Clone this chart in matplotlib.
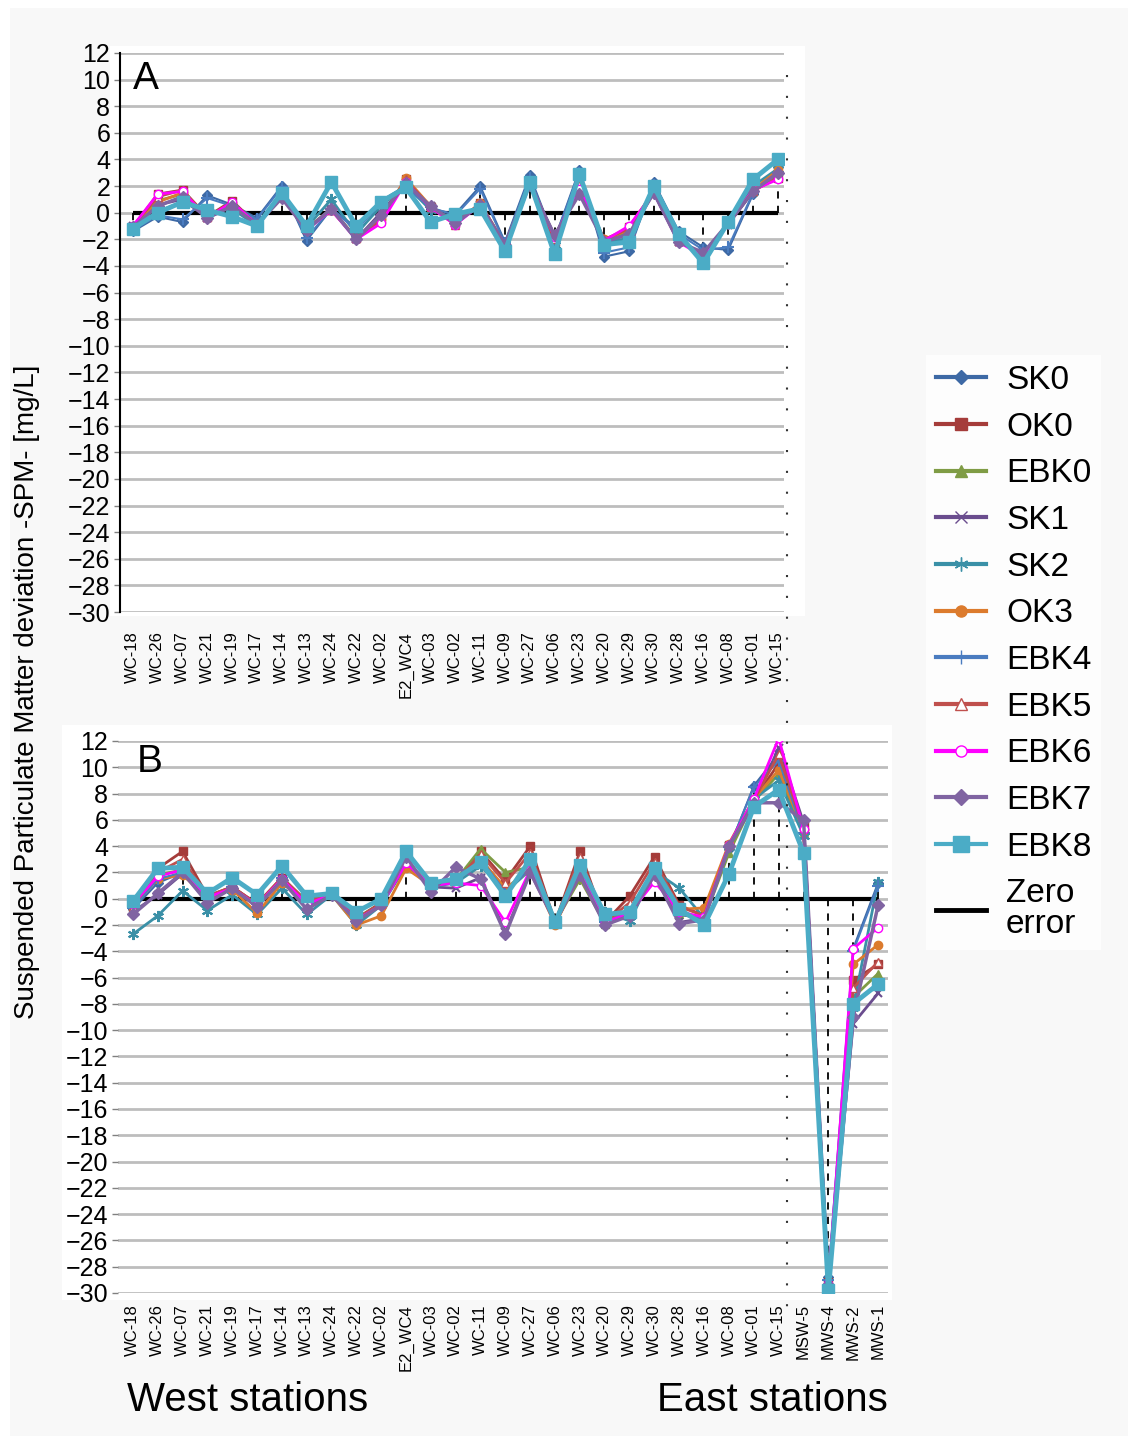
import numpy as np
import matplotlib.pyplot as plt
from matplotlib.lines import Line2D
from matplotlib.patches import Rectangle

plt.rcParams['font.family'] = ['Liberation Sans', 'DejaVu Sans']

# station labels
west_a = ['WC-18', 'WC-26', 'WC-07', 'WC-21', 'WC-19', 'WC-17', 'WC-14', 'WC-13', 'WC-24',
          'WC-22', 'WC-02', 'E2_WC4', 'WC-03', 'WC-02', 'WC-11', 'WC-09', 'WC-27', 'WC-06',
          'WC-23', 'WC-20', 'WC-29', 'WC-30', 'WC-28', 'WC-16', 'WC-08', 'WC-01', 'WC-15']
stations_b = west_a + ['MSW-5', 'MWS-4', 'MWS-2', 'MWS-1']

series = ['SK0', 'OK0', 'EBK0', 'SK1', 'SK2', 'OK3', 'EBK4', 'EBK5', 'EBK6', 'EBK7', 'EBK8']

# panel A values (mg/L)
SK0_a = [-1.4, -0.3, -0.7, 1.3, 0.6, -0.4, 2.0, -2.1, 0.3, -1.1, 0.9, 2.0, 0.3, -0.1, 2.0, -2.2, 2.8, -2.0, 3.2, -3.3, -2.9, 2.3, -1.4, -2.6, -2.8, 1.4, 3.4]
OK0_a = [-1.1, 1.4, 1.7, -0.3, 0.9, -0.9, 1.3, -1.2, 0.2, -1.9, -0.5, 2.5, 0.4, -0.8, 0.7, -2.4, 2.3, -2.2, 2.2, -2.1, -1.1, 1.6, -2.1, -3.2, -0.8, 1.7, 2.6]
EBK0_a = [-1.1, 0.9, 1.4, -0.3, 0.6, -0.9, 1.2, -1.2, 0.3, -1.9, -0.3, 2.3, 0.4, -0.8, 0.6, -2.4, 2.3, -1.8, 2.0, -2.1, -1.5, 1.6, -2.1, -3.2, -0.8, 1.6, 2.9]
SK1_a = [-1.0, 0.6, 1.0, -0.4, 0.5, -0.8, 1.2, -1.3, 0.3, -2.0, 0.0, 2.2, 0.5, -0.8, 0.6, -2.5, 2.2, -1.7, 1.6, -2.2, -1.6, 1.5, -2.2, -3.1, -0.9, 1.6, 2.9]
SK2_a = [-1.2, 0.1, 0.8, 0.0, 0.3, -1.0, 1.3, -1.1, 1.0, -1.6, 0.5, 2.1, 0.2, -0.4, 0.5, -2.6, 2.4, -2.4, 2.4, -2.3, -1.9, 1.8, -1.8, -3.4, -0.8, 2.0, 3.3]
OK3_a = [-1.1, 0.8, 1.5, -0.3, 0.7, -0.9, 1.3, -1.2, 0.2, -1.9, -0.5, 2.6, 0.5, -0.8, 0.7, -2.4, 2.3, -1.9, 2.0, -2.0, -1.3, 1.6, -2.0, -3.2, -0.8, 1.7, 3.2]
EBK4_a = [-1.3, -0.2, -0.5, 1.1, 0.5, -0.5, 1.9, -1.9, 0.3, -1.3, 0.7, 1.9, 0.4, -0.2, 1.8, -2.3, 2.6, -2.0, 3.0, -3.0, -2.6, 2.1, -1.6, -2.8, -2.6, 1.5, 3.0]
EBK5_a = [-1.0, 1.2, 1.7, -0.3, 0.8, -0.9, 1.3, -1.2, 0.2, -1.9, -0.6, 2.5, 0.4, -0.9, 0.7, -2.5, 2.3, -2.0, 2.1, -2.0, -1.2, 1.6, -2.1, -3.2, -0.8, 1.6, 2.7]
EBK6_a = [-1.0, 1.4, 1.6, -0.4, 0.8, -0.9, 1.2, -1.3, 0.2, -2.0, -0.8, 2.3, 0.4, -0.9, 0.6, -2.5, 2.2, -1.8, 1.8, -2.1, -1.0, 1.5, -2.2, -3.3, -0.8, 1.7, 2.5]
EBK7_a = [-1.1, 0.5, 1.2, -0.4, 0.5, -0.9, 1.1, -1.3, 0.3, -2.0, -0.2, 2.2, 0.5, -0.8, 0.6, -2.4, 2.1, -1.7, 1.4, -2.2, -1.6, 1.5, -2.2, -3.0, -0.8, 1.6, 3.0]
EBK8_a = [-1.2, 0.0, 0.8, 0.2, -0.3, -1.0, 1.5, -1.0, 2.3, -1.0, 0.8, 1.9, -0.7, -0.1, 0.3, -2.9, 2.3, -3.1, 2.9, -2.4, -2.2, 2.0, -1.6, -3.8, -0.7, 2.5, 4.0]

# panel B values (mg/L)
SK0_b = [-0.8, 1.2, 2.0, 0.1, 0.9, -0.4, 1.6, -0.3, 0.3, -1.5, -0.4, 2.8, 1.0, 1.3, 3.1, 0.5, 2.3, -1.8, 2.2, -1.8, -1.0, 2.0, -1.2, -1.5, 3.8, 8.6, 11.0, 5.0, -28.8, -3.8, 1.2]
OK0_b = [-0.6, 2.3, 3.6, 0.2, 0.9, -0.4, 1.6, -0.2, 0.5, -1.5, -0.3, 2.8, 1.0, 1.3, 3.6, 1.4, 4.0, -1.8, 3.6, -1.8, 0.2, 3.2, -0.5, -1.3, 4.1, 7.5, 10.3, 5.5, -29.2, -6.2, -5.0]
EBK0_b = [-0.6, 1.8, 2.2, 0.1, 0.9, -0.5, 1.5, -0.3, 0.3, -1.5, -0.4, 2.7, 1.0, 1.4, 3.8, 2.0, 2.4, -1.8, 1.5, -1.9, -1.0, 2.0, -1.2, -1.5, 3.5, 7.4, 9.5, 5.0, -29.3, -7.5, -5.7]
SK1_b = [-1.0, 0.3, 1.9, 0.0, 0.8, -0.6, 1.5, -0.6, 0.3, -1.6, -0.5, 2.7, 0.9, 0.8, 1.6, -2.5, 2.0, -1.8, 1.9, -1.9, -1.2, 1.9, -1.8, -1.5, 4.0, 7.2, 11.5, 5.8, -29.3, -9.5, -7.2]
SK2_b = [-2.7, -1.3, 0.6, -0.9, 0.3, -1.2, 0.8, -1.2, 0.3, -2.0, -0.5, 2.5, 0.9, 1.2, 2.5, 0.5, 2.2, -1.7, 2.2, -1.0, -1.7, 2.1, 0.8, -1.5, 3.9, 7.6, 9.0, 4.8, -29.5, -8.3, 1.3]
OK3_b = [-0.6, 1.5, 1.8, 0.1, 0.7, -1.1, 1.2, -0.3, 0.3, -2.0, -1.3, 2.3, 1.0, 1.3, 3.0, 0.8, 2.2, -2.0, 2.0, -1.8, -1.0, 2.0, -0.8, -0.7, 4.2, 7.6, 9.8, 5.2, -29.4, -5.0, -3.5]
EBK4_b = [-0.7, 1.5, 2.0, 0.1, 0.9, -0.4, 1.6, -0.3, 0.3, -1.5, -0.4, 2.8, 1.0, 1.3, 3.0, 0.5, 2.3, -1.8, 2.2, -1.8, -1.0, 2.0, -1.2, -1.5, 3.9, 8.5, 10.5, 5.0, -29.0, -4.0, 1.0]
EBK5_b = [-0.6, 2.0, 3.0, 0.2, 0.9, -0.4, 1.6, -0.2, 0.4, -1.5, -0.4, 2.8, 1.0, 1.3, 3.4, 1.2, 3.5, -1.8, 3.2, -1.8, -0.3, 2.8, -0.6, -1.3, 4.1, 7.5, 11.0, 5.4, -29.2, -6.8, -4.8]
EBK6_b = [-0.4, 1.7, 2.2, 0.1, 0.8, -0.5, 1.5, -0.4, 0.3, -1.6, -0.5, 2.7, 1.0, 1.2, 1.0, -1.8, 2.2, -1.8, 2.0, -1.8, -1.1, 1.3, -1.0, -1.4, 4.1, 7.6, 12.2, 5.3, -29.3, -3.8, -2.2]
EBK7_b = [-1.2, 0.4, 2.0, -0.3, 0.8, -0.6, 1.4, -0.8, 0.3, -1.7, -0.5, 3.2, 0.5, 2.4, 1.5, -2.7, 2.0, -1.8, 1.8, -2.0, -1.3, 1.8, -1.9, -1.6, 4.0, 7.3, 7.3, 6.0, -29.4, -9.0, -0.5]
EBK8_b = [-0.2, 2.3, 2.4, 0.4, 1.6, 0.3, 2.5, 0.2, 0.4, -1.0, 0.0, 3.6, 1.2, 1.5, 2.8, 0.2, 3.0, -1.8, 2.6, -1.2, -1.0, 2.3, -0.8, -2.0, 1.9, 7.0, 8.3, 3.5, -29.8, -8.0, -6.5]

data_a = [SK0_a, OK0_a, EBK0_a, SK1_a, SK2_a, OK3_a, EBK4_a, EBK5_a, EBK6_a, EBK7_a, EBK8_a]
data_b = [SK0_b, OK0_b, EBK0_b, SK1_b, SK2_b, OK3_b, EBK4_b, EBK5_b, EBK6_b, EBK7_b, EBK8_b]

# style per series: color, marker, markersize, linewidth, open marker
styles = {
    'SK0':  ('#3d69a5', 'D', 5, 1.5, False),
    'OK0':  ('#a53c3a', 's', 6, 2.0, False),
    'EBK0': ('#7f9c45', '^', 6, 2.0, False),
    'SK1':  ('#6a4d8e', 'x', 6, 2.0, False),
    'SK2':  ('#3a90a7', (6, 2, 0), 8, 2.0, False),
    'OK3':  ('#dc7b2d', 'o', 6, 2.0, False),
    'EBK4': ('#4a7cc0', '+', 8, 1.5, False),
    'EBK5': ('#c0504d', '^', 6, 2.0, True),
    'EBK6': ('#ff00ff', 'o', 6, 2.0, True),
    'EBK7': ('#8064a2', 'D', 6, 2.5, False),
    'EBK8': ('#4bacc6', 's', 9, 3.5, False),
}

W, H = 1131, 1439
fig = plt.figure(figsize=(W / 100, H / 100), dpi=100, facecolor='white')

def px(x0, y0, x1, y1):
    # pixel box -> figure fraction rect
    return [x0 / W, 1 - y1 / H, (x1 - x0) / W, (y1 - y0) / H]

# light grey page + white panel backgrounds
fig.patches.append(Rectangle((10 / W, 1 - 1436 / H), 1118 / W, 1428 / H, transform=fig.transFigure,
                             facecolor='#f8f8f8', edgecolor='none', zorder=-10))
fig.patches.append(Rectangle((110 / W, 1 - 616 / H), 695 / W, 570 / H, transform=fig.transFigure,
                             facecolor='white', edgecolor='none', zorder=-9))
fig.patches.append(Rectangle((62 / W, 1 - 1300 / H), 830 / W, 575 / H, transform=fig.transFigure,
                             facecolor='white', edgecolor='none', zorder=-9))


def draw_panel(ax, labels, data, letter, spine, pad):
    x = np.arange(len(labels))
    ax.set_facecolor('none')
    ax.set_ylim(-30, 12)
    ax.set_yticks(np.arange(-30, 13, 2))
    ax.grid(axis='y', color='#bdbdbd', lw=2, zorder=0)
    ax.set_axisbelow(True)
    for s in ['top', 'right', 'bottom']:
        ax.spines[s].set_visible(False)
    ax.spines['left'].set_visible(spine)
    ax.spines['left'].set_color('black')
    ax.spines['left'].set_linewidth(1.5)
    ax.tick_params(axis='y', labelsize=18, length=4, width=1, color='#808080', pad=3)
    ax.set_xticks(x)
    ax.set_xticklabels(labels, rotation=90, fontsize=12)
    ax.tick_params(axis='x', length=0, pad=pad)
    # dashed drop lines (from first series) and zero line
    ax.vlines(x, 0, data[0], colors='black', linestyles=(0, (4, 4)), lw=1.3, zorder=2)
    ax.hlines(0, x[0], x[-1], colors='black', lw=3, zorder=3)
    for name, vals in zip(series, data):
        c, m, ms, lw, hollow = styles[name]
        ax.plot(x, vals, color=c, marker=m, ms=ms, lw=lw, mew=1.5 if m in ('x', '+', (6, 2, 0)) else 1,
                mfc='white' if hollow else c, mec=c, zorder=4)
    ax.text(0.02, 0.985, letter, transform=ax.transAxes, fontsize=28, va='top', ha='left', zorder=6)


ax_a = fig.add_axes(px(120, 53, 784, 612))
ax_a.set_xlim(-0.52, 26.25)
draw_panel(ax_a, west_a, data_a, 'A', True, 14)

ax_b = fig.add_axes(px(118, 741, 888, 1293))
ax_b.set_xlim(-0.6, 30.4)
draw_panel(ax_b, stations_b, data_b, 'B', False, 8)
ax_b.texts[0].set_position((0.025, 0.995))

# dotted separator between west and east stations
fig.add_artist(Line2D([787 / W, 787 / W], [1 - 75 / H, 1 - 1310 / H], transform=fig.transFigure,
                      color='#333333', lw=1.5, linestyle=(0, (1, 9)), zorder=10))

# shared y label and station group labels
fig.text(27 / W, 1 - 692 / H, 'Suspended Particulate Matter deviation -SPM- [mg/L]',
         rotation=90, fontsize=20, ha='center', va='center')
fig.text(127 / W, 1 - 1400 / H, 'West stations', fontsize=29, ha='left', va='center')
fig.text(888 / W, 1 - 1400 / H, 'East stations', fontsize=29, ha='right', va='center')

# legend
handles = []
for name in series:
    c, m, ms, lw, hollow = styles[name]
    handles.append(Line2D([], [], color=c, marker=m, ms=ms + 2, lw=3, mfc='white' if hollow else c, mec=c))
handles.append(Line2D([], [], color='black', lw=3.5))
leg = fig.legend(handles, series + ['Zero\nerror'], loc='upper left',
                 bbox_to_anchor=(926 / W, 1 - 355 / H), fontsize=24, frameon=True,
                 handlelength=1.5, handletextpad=0.6, labelspacing=0.47, borderpad=0.3,
                 borderaxespad=0)
leg.get_frame().set_facecolor('white')
leg.get_frame().set_edgecolor('none')
leg.get_frame().set_boxstyle('square', pad=0)
for t in leg.get_texts()[-1:]:
    t.set_linespacing(1.0)

plt.savefig('out.png', dpi=100, facecolor=fig.get_facecolor())
